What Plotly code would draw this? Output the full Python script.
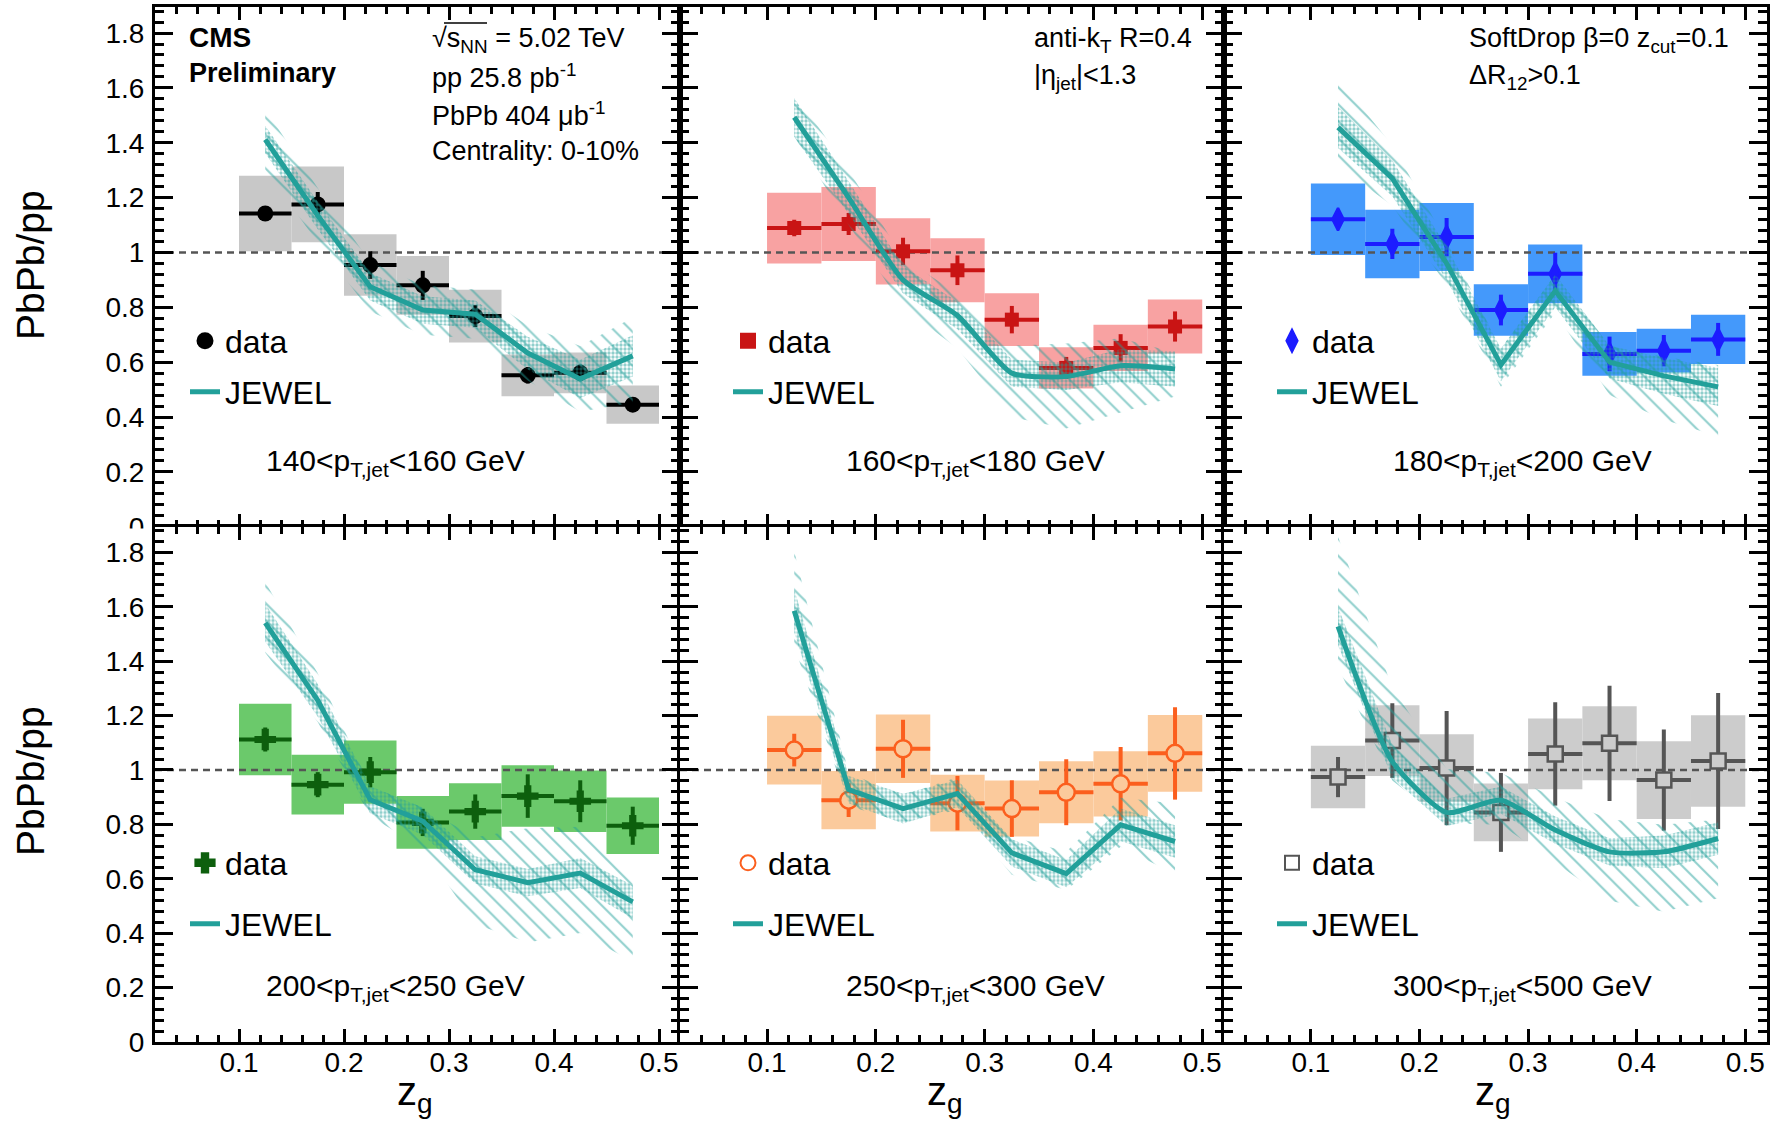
import plotly.graph_objects as go

FIG_W, FIG_H = 1771, 1122
FONT = "Liberation Sans, Arial, Helvetica, sans-serif"

# z_g bins: 0.10-0.50 in steps of 0.05 (centres and half widths)
ZG = [0.125, 0.175, 0.225, 0.275, 0.325, 0.375, 0.425, 0.475]
ZG_HALF = [0.025, 0.025, 0.025, 0.025, 0.025, 0.025, 0.025, 0.025]

X_RANGE = [0.02, 0.52]
Y_RANGE = [0.0, 1.895]
UNITY = 1.0

PT_LABELS = [
    "140&lt;p<sub>T,jet</sub>&lt;160 GeV",
    "160&lt;p<sub>T,jet</sub>&lt;180 GeV",
    "180&lt;p<sub>T,jet</sub>&lt;200 GeV",
    "200&lt;p<sub>T,jet</sub>&lt;250 GeV",
    "250&lt;p<sub>T,jet</sub>&lt;300 GeV",
    "300&lt;p<sub>T,jet</sub>&lt;500 GeV",
]

# ---- 140 < pT < 160 GeV
RATIO_140 = [1.142, 1.175, 0.954, 0.880, 0.768, 0.552, 0.561, 0.445]
STAT_140 = [0.020, 0.045, 0.050, 0.053, 0.040, 0.030, 0.030, 0.020]
SYST_140 = [0.138, 0.138, 0.112, 0.107, 0.096, 0.076, 0.074, 0.070]
JEWEL_140 = [1.412, 1.135, 0.875, 0.790, 0.775, 0.633, 0.539, 0.623]
JEWEL_STAT_140 = [0.050, 0.050, 0.050, 0.050, 0.050, 0.060, 0.070, 0.075]
JEWEL_SYS_UP_140 = [0.11, 0.10, 0.09, 0.09, 0.09, 0.10, 0.12, 0.14]
JEWEL_SYS_DN_140 = [0.11, 0.10, 0.09, 0.09, 0.09, 0.10, 0.12, 0.17]

# ---- 160 < pT < 180 GeV
RATIO_160 = [1.089, 1.104, 1.004, 0.935, 0.755, 0.579, 0.652, 0.730]
STAT_160 = [0.030, 0.040, 0.050, 0.054, 0.050, 0.040, 0.050, 0.055]
SYST_160 = [0.129, 0.135, 0.121, 0.117, 0.096, 0.075, 0.084, 0.098]
JEWEL_160 = [1.493, 1.200, 0.900, 0.770, 0.560, 0.548, 0.587, 0.575]
JEWEL_STAT_160 = [0.070, 0.060, 0.050, 0.050, 0.050, 0.050, 0.060, 0.065]
JEWEL_SYS_UP_160 = [0.09, 0.10, 0.08, 0.08, 0.10, 0.12, 0.10, 0.06]
JEWEL_SYS_DN_160 = [0.07, 0.10, 0.10, 0.12, 0.16, 0.19, 0.17, 0.10]

# ---- 180 < pT < 200 GeV
RATIO_180 = [1.121, 1.031, 1.056, 0.790, 0.922, 0.630, 0.642, 0.683]
STAT_180 = [0.030, 0.055, 0.070, 0.056, 0.077, 0.063, 0.057, 0.060]
SYST_180 = [0.130, 0.125, 0.124, 0.094, 0.107, 0.080, 0.080, 0.090]
JEWEL_180 = [1.456, 1.270, 0.960, 0.590, 0.860, 0.600, 0.550, 0.510]
JEWEL_STAT_180 = [0.075, 0.065, 0.060, 0.060, 0.060, 0.060, 0.065, 0.070]
JEWEL_SYS_UP_180 = [0.18, 0.12, 0.08, 0.06, 0.06, 0.06, 0.07, 0.08]
JEWEL_SYS_DN_180 = [0.14, 0.10, 0.08, 0.08, 0.08, 0.12, 0.16, 0.18]

# ---- 200 < pT < 250 GeV
RATIO_200 = [1.112, 0.946, 0.992, 0.807, 0.847, 0.904, 0.885, 0.795]
STAT_200 = [0.044, 0.046, 0.056, 0.050, 0.063, 0.080, 0.077, 0.070]
SYST_200 = [0.131, 0.110, 0.116, 0.097, 0.104, 0.113, 0.113, 0.104]
JEWEL_200 = [1.541, 1.256, 0.890, 0.812, 0.633, 0.586, 0.621, 0.515]
JEWEL_STAT_200 = [0.070, 0.060, 0.050, 0.050, 0.050, 0.050, 0.055, 0.060]
JEWEL_SYS_UP_200 = [0.15, 0.10, 0.05, 0.05, 0.12, 0.20, 0.17, 0.08]
JEWEL_SYS_DN_200 = [0.11, 0.08, 0.06, 0.10, 0.20, 0.22, 0.22, 0.22]

# ---- 250 < pT < 300 GeV
RATIO_250 = [1.073, 0.889, 1.078, 0.878, 0.858, 0.918, 0.949, 1.061]
STAT_250 = [0.060, 0.062, 0.107, 0.100, 0.104, 0.121, 0.135, 0.170]
SYST_250 = [0.126, 0.107, 0.126, 0.104, 0.103, 0.114, 0.120, 0.141]
JEWEL_250 = [1.585, 0.928, 0.858, 0.913, 0.695, 0.619, 0.798, 0.737]
JEWEL_STAT_250 = [0.080, 0.050, 0.055, 0.050, 0.050, 0.050, 0.060, 0.060]
JEWEL_SYS_UP_250 = [0.22, 0.06, 0.05, 0.06, 0.06, 0.08, 0.10, 0.14]
JEWEL_SYS_DN_250 = [0.13, 0.06, 0.05, 0.06, 0.08, 0.06, 0.08, 0.12]

# ---- 300 < pT < 500 GeV
RATIO_300 = [0.974, 1.108, 1.007, 0.844, 1.059, 1.098, 0.963, 1.033]
STAT_300 = [0.074, 0.137, 0.210, 0.145, 0.190, 0.212, 0.186, 0.250]
SYST_300 = [0.115, 0.130, 0.124, 0.106, 0.130, 0.136, 0.143, 0.168]
JEWEL_300 = [1.528, 1.031, 0.844, 0.889, 0.779, 0.699, 0.699, 0.748]
JEWEL_STAT_300 = [0.070, 0.060, 0.050, 0.050, 0.050, 0.050, 0.060, 0.060]
JEWEL_SYS_UP_300 = [0.33, 0.27, 0.16, 0.10, 0.12, 0.12, 0.10, 0.07]
JEWEL_SYS_DN_300 = [0.15, 0.07, 0.04, 0.09, 0.12, 0.18, 0.22, 0.22]

TEAL = "#22a09a"

PANELS = [
    dict(ratio=RATIO_140, stat=STAT_140, syst=SYST_140, jewel=JEWEL_140,
         jstat=JEWEL_STAT_140, jup=JEWEL_SYS_UP_140, jdn=JEWEL_SYS_DN_140,
         mcolor="#000000", box="#c8c8c8", fill="#000000", symbol="circle",
         size=16, lw=0, leg_symbol="circle", leg_size=15, curve="linear"),
    dict(ratio=RATIO_160, stat=STAT_160, syst=SYST_160, jewel=JEWEL_160,
         jstat=JEWEL_STAT_160, jup=JEWEL_SYS_UP_160, jdn=JEWEL_SYS_DN_160,
         mcolor="#c91414", box="#f8a2a2", fill="#c91414", symbol="square",
         size=14, lw=0, leg_symbol="square", leg_size=14, curve="spline"),
    dict(ratio=RATIO_180, stat=STAT_180, syst=SYST_180, jewel=JEWEL_180,
         jstat=JEWEL_STAT_180, jup=JEWEL_SYS_UP_180, jdn=JEWEL_SYS_DN_180,
         mcolor="#1c1cff", box="#4499fb", fill="#1c1cff", symbol="diamond-tall",
         size=16, lw=2.5, leg_symbol="diamond-tall", leg_size=16, curve="linear"),
    dict(ratio=RATIO_200, stat=STAT_200, syst=SYST_200, jewel=JEWEL_200,
         jstat=JEWEL_STAT_200, jup=JEWEL_SYS_UP_200, jdn=JEWEL_SYS_DN_200,
         mcolor="#0d5f0d", box="#6bc96b", fill="#0d5f0d", symbol="cross",
         size=18, lw=0, leg_symbol="cross", leg_size=16, curve="linear"),
    dict(ratio=RATIO_250, stat=STAT_250, syst=SYST_250, jewel=JEWEL_250,
         jstat=JEWEL_STAT_250, jup=JEWEL_SYS_UP_250, jdn=JEWEL_SYS_DN_250,
         mcolor="#fb5f1e", box="#fbca9c", fill="#fbca9c", symbol="circle",
         size=17, lw=2.5, leg_symbol="circle-open", leg_size=15, curve="linear"),
    dict(ratio=RATIO_300, stat=STAT_300, syst=SYST_300, jewel=JEWEL_300,
         jstat=JEWEL_STAT_300, jup=JEWEL_SYS_UP_300, jdn=JEWEL_SYS_DN_300,
         mcolor="#555555", box="#cccccc", fill="#cccccc", symbol="square",
         size=15, lw=2.5, leg_symbol="square-open", leg_size=14, curve="spline"),
]

# pad geometry in pixels
COLS_PX = [(155, 680), (680, 1224), (1224, 1767)]
ROWS_PX = [(7, 526.7), (526.5, 1042)]


def px_x(v):
    return v / FIG_W


def px_y(v):
    return 1 - v / FIG_H


fig = go.Figure()
layout = dict(
    width=FIG_W, height=FIG_H,
    margin=dict(l=0, r=0, t=0, b=0, autoexpand=False),
    paper_bgcolor="white", plot_bgcolor="white",
    barmode="overlay", showlegend=True, hovermode=False,
    font=dict(family=FONT, color="black"),
)

for i, p in enumerate(PANELS):
    n = i + 1
    row, col = divmod(i, 3)
    xa = "x" if n == 1 else f"x{n}"
    ya = "y" if n == 1 else f"y{n}"
    c0, c1 = COLS_PX[col]
    r0, r1 = ROWS_PX[row]

    layout["xaxis" if n == 1 else f"xaxis{n}"] = dict(
        domain=[px_x(c0), px_x(c1)], anchor=ya, range=X_RANGE,
        showline=True, linecolor="black", linewidth=3, mirror="allticks",
        ticks="inside", ticklen=13, tickwidth=3, tickcolor="black",
        tickmode="linear", tick0=0, dtick=0.1,
        minor=dict(ticks="inside", ticklen=7, tickwidth=2.5, tickcolor="black",
                   tickmode="linear", tick0=0, dtick=0.02),
        showgrid=False, zeroline=False, automargin=False,
        showticklabels=(row == 1), ticklabelstandoff=-7,
        tickfont=dict(size=28, family=FONT, color="black"),
    )
    layout["yaxis" if n == 1 else f"yaxis{n}"] = dict(
        domain=[px_y(r1), px_y(r0)], anchor=xa, range=Y_RANGE,
        showline=True, linecolor="black", linewidth=3, mirror="allticks",
        ticks="inside", ticklen=18, tickwidth=3, tickcolor="black",
        tickmode="linear", tick0=0, dtick=0.2,
        minor=dict(ticks="inside", ticklen=9, tickwidth=2.5, tickcolor="black",
                   tickmode="linear", tick0=0, dtick=0.04),
        showgrid=False, zeroline=False, automargin=False,
        showticklabels=(col == 0), ticklabelstandoff=2,
        tickfont=dict(size=28, family=FONT, color="black"),
    )

    leg_data = "legend" if n == 1 else f"legend{2 * n - 1}"
    leg_jewel = f"legend{2 * n}"

    # systematic uncertainty boxes
    fig.add_trace(go.Bar(
        x=ZG, y=[2 * s for s in p["syst"]],
        base=[v - s for v, s in zip(p["ratio"], p["syst"])],
        width=[2 * h for h in ZG_HALF],
        marker=dict(color=p["box"], line=dict(width=0)),
        showlegend=False, xaxis=xa, yaxis=ya,
    ))
    # reference line at unity
    fig.add_trace(go.Scatter(
        x=X_RANGE, y=[UNITY, UNITY], mode="lines",
        line=dict(color="#555555", width=2.5, dash="7px,5px"),
        showlegend=False, xaxis=xa, yaxis=ya,
    ))
    # data points with statistical errors
    fig.add_trace(go.Scatter(
        x=ZG, y=p["ratio"], mode="markers",
        marker=dict(symbol=p["symbol"], size=p["size"], color=p["fill"],
                    line=dict(color=p["mcolor"], width=p["lw"])),
        error_x=dict(type="data", array=ZG_HALF, color=p["mcolor"],
                     thickness=4, width=0),
        error_y=dict(type="data", array=p["stat"], color=p["mcolor"],
                     thickness=4, width=0),
        showlegend=False, xaxis=xa, yaxis=ya,
    ))
    # JEWEL systematic band (hatched)
    fig.add_trace(go.Scatter(
        x=ZG + ZG[::-1],
        y=[j + u for j, u in zip(p["jewel"], p["jup"])]
          + [j - d for j, d in zip(p["jewel"], p["jdn"])][::-1],
        mode="lines", line=dict(width=0), fill="toself",
        fillcolor="rgba(0,0,0,0)",
        fillpattern=dict(shape="\\", fgcolor=TEAL, size=12, solidity=0.17),
        showlegend=False, xaxis=xa, yaxis=ya,
    ))
    # JEWEL statistical band (dotted)
    fig.add_trace(go.Scatter(
        x=ZG + ZG[::-1],
        y=[j + s for j, s in zip(p["jewel"], p["jstat"])]
          + [j - s for j, s in zip(p["jewel"], p["jstat"])][::-1],
        mode="lines", line=dict(width=0), fill="toself",
        fillcolor="rgba(0,0,0,0)",
        fillpattern=dict(shape=".", fgcolor=TEAL, size=4, solidity=0.55),
        showlegend=False, xaxis=xa, yaxis=ya,
    ))
    # JEWEL central curve
    fig.add_trace(go.Scatter(
        x=ZG, y=p["jewel"], mode="lines",
        line=dict(color=TEAL, width=5, shape=p["curve"], smoothing=0.6),
        name="JEWEL", legend=leg_jewel, showlegend=True,
        xaxis=xa, yaxis=ya,
    ))
    # legend key for the data
    fig.add_trace(go.Scatter(
        x=[None], y=[None], mode="markers",
        marker=dict(symbol=p["leg_symbol"], size=p["leg_size"],
                    color=p["mcolor"], line=dict(color=p["mcolor"], width=2)),
        name="data", legend=leg_data, showlegend=True,
        xaxis=xa, yaxis=ya,
    ))

    # legend boxes
    lx = c0 + 30 if col == 0 else c0 + 48
    ly_data, ly_jewel = (341, 392) if row == 0 else (863, 924)
    common = dict(xanchor="left", yanchor="middle", bgcolor="rgba(0,0,0,0)",
                  borderwidth=0, itemwidth=30,
                  font=dict(size=32, family=FONT, color="black"))
    layout[leg_data] = dict(x=px_x(lx), y=px_y(ly_data), **common)
    layout[leg_jewel] = dict(x=px_x(lx), y=px_y(ly_jewel), **common)

annotations = []


def add_text(text, x, y, size=27, xanchor="left", yanchor="middle", angle=0):
    annotations.append(dict(
        text=text, x=px_x(x), y=px_y(y), xref="paper", yref="paper",
        xanchor=xanchor, yanchor=yanchor, showarrow=False, textangle=angle,
        font=dict(size=size, family=FONT, color="black"),
    ))


add_text("<b>CMS</b>", 187, 38, size=28)
add_text("<b>Preliminary</b>", 187, 73, size=27)
add_text("√s<sub>NN</sub> = 5.02 TeV", 430, 40)
add_text("pp 25.8 pb<sup>-1</sup>", 430, 76)
add_text("PbPb 404 μb<sup>-1</sup>", 430, 114)
add_text("Centrality: 0-10%", 430, 151)
add_text("anti-k<sub>T</sub> R=0.4", 1032, 40)
add_text("|η<sub>jet</sub>|&lt;1.3", 1032, 77)
add_text("SoftDrop β=0 z<sub>cut</sub>=0.1", 1467, 40)
add_text("ΔR<sub>12</sub>&gt;0.1", 1467, 77)

PT_POS = [(395, 462), (975, 462), (1522, 462), (395, 987), (975, 987), (1522, 987)]
for label, (x, y) in zip(PT_LABELS, PT_POS):
    add_text(label, x, y, size=30, xanchor="center")

for yc in (265, 781):
    add_text("PbPb/pp", 30, yc, size=39, xanchor="center", angle=-90)
for xc in (415, 945, 1493):
    add_text("z<sub>g</sub>", xc, 1094, size=40, xanchor="center")

layout["annotations"] = annotations

layout["shapes"] = [
    # lower pad hides the bottom half of the upper pad's "0" label
    dict(type="rect", xref="paper", yref="paper", layer="above",
         x0=px_x(95), x1=px_x(152), y0=px_y(541), y1=px_y(528.5),
         fillcolor="white", line=dict(width=0)),
    # overbar of the square root
    dict(type="line", xref="paper", yref="paper", layer="above",
         x0=px_x(444), x1=px_x(487), y0=px_y(23), y1=px_y(23),
         line=dict(color="black", width=1.5)),
]

fig.update_layout(**layout)
fig.write_html("out.html")
